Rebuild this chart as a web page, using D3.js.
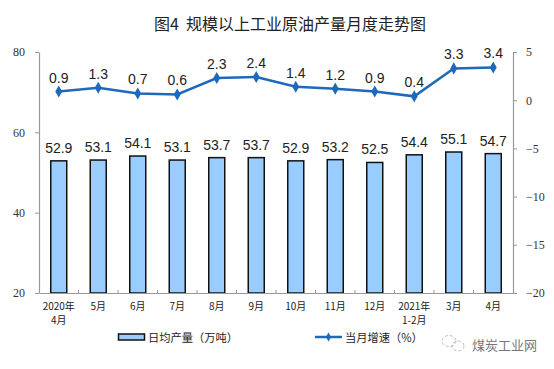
<!DOCTYPE html>
<html>
<head>
<meta charset="utf-8">
<script src="https://cdn.jsdelivr.net/npm/d3@7"></script>
<style>
body { margin: 0; background: #fff; }
svg { display: block; }
text { fill: #222; }
.cjk { font-family: "Noto Sans CJK SC", sans-serif; }
.label { font-family: "Liberation Sans", Arial, sans-serif; font-size: 14px; }
.tick-num { font-family: "Liberation Serif", serif; font-size: 12px; }
</style>
</head>
<body>
<svg id="chart" width="554" height="369"></svg>
<script>
var categories = ["2020年|4月", "5月", "6月", "7月", "8月", "9月", "10月", "11月", "12月", "2021年|1-2月", "3月", "4月"];
var output = [52.9, 53.1, 54.1, 53.1, 53.7, 53.7, 52.9, 53.2, 52.5, 54.4, 55.1, 54.7];
var growth = [0.9, 1.3, 0.7, 0.6, 2.3, 2.4, 1.4, 1.2, 0.9, 0.4, 3.3, 3.4];
var leftTicks = [20, 40, 60, 80];
var rightTicks = [-20, -15, -10, -5, 0, 5];

var svg = d3.select("#chart");
var plotLeft = 39, plotRight = 513, plotTop = 52, plotBottom = 293;

var x = d3.scaleBand().domain(categories).range([plotLeft, plotRight]);
var yL = d3.scaleLinear().domain([20, 80]).range([plotBottom, plotTop]);
var yR = d3.scaleLinear().domain([-20, 5]).range([plotBottom, plotTop]);

function cx(i) {
    return x(categories[i]) + x.bandwidth() / 2;
}

svg.append("text")
    .attr("class", "cjk")
    .attr("x", 290).attr("y", 30)
    .attr("text-anchor", "middle")
    .style("font-size", "16px")
    .style("white-space", "pre")
    .text("图4  规模以上工业原油产量月度走势图");

// bars
svg.append("g").selectAll("rect")
    .data(output)
    .join("rect")
    .attr("x", function (d, i) { return cx(i) - 8; })
    .attr("y", function (d) { return yL(d); })
    .attr("width", 16)
    .attr("height", function (d) { return plotBottom - yL(d); })
    .attr("fill", "#99ccff")
    .attr("stroke", "#111")
    .attr("stroke-width", 1.5);

svg.append("g").selectAll("text")
    .data(output)
    .join("text")
    .attr("class", "label")
    .attr("x", function (d, i) { return cx(i); })
    .attr("y", function (d) { return yL(d) - 8; })
    .attr("text-anchor", "middle")
    .text(function (d) { return d.toFixed(1); });

// axes
var axisColor = "#999";
var gL = svg.append("g")
    .attr("transform", "translate(" + plotLeft + ",0)")
    .call(d3.axisLeft(yL).tickValues(leftTicks).tickSize(4).tickPadding(10).tickSizeOuter(0));
var gR = svg.append("g")
    .attr("transform", "translate(" + plotRight + ",0)")
    .call(d3.axisRight(yR).tickValues(rightTicks).tickSize(4).tickPadding(9).tickSizeOuter(0));
var gX = svg.append("g")
    .attr("transform", "translate(0," + plotBottom + ")")
    .call(d3.axisBottom(x).tickSize(0).tickFormat(""));

[gL, gR, gX].forEach(function (g) {
    g.select(".domain").attr("stroke", axisColor).attr("stroke-width", 1.2);
    g.selectAll(".tick line").attr("stroke", axisColor);
    g.selectAll(".tick text").attr("class", "tick-num").style("fill", "#333");
});

// small ticks between categories
svg.append("g").selectAll("line")
    .data(categories.slice(1))
    .join("line")
    .attr("x1", function (d) { return x(d); })
    .attr("x2", function (d) { return x(d); })
    .attr("y1", plotBottom)
    .attr("y2", plotBottom - 3)
    .attr("stroke", axisColor);

// category labels, two lines where needed
var catLabels = svg.append("g").selectAll("text")
    .data(categories)
    .join("text")
    .attr("class", "cjk")
    .attr("text-anchor", "middle")
    .style("font-size", "10px")
    .attr("transform", function (d, i) { return "translate(" + cx(i) + ",0)"; });
catLabels.selectAll("tspan")
    .data(function (d) { return d.split("|"); })
    .join("tspan")
    .attr("x", 0)
    .attr("y", function (d, i) { return 310 + i * 14; })
    .text(function (d) { return d; });

// growth line
var line = d3.line()
    .x(function (d, i) { return cx(i); })
    .y(function (d) { return yR(d); });

svg.append("path")
    .datum(growth)
    .attr("d", line)
    .attr("fill", "none")
    .attr("stroke", "#1f69bd")
    .attr("stroke-width", 2.5);

var diamond = d3.symbol().type(d3.symbolDiamond).size(42);
svg.append("g").selectAll("path")
    .data(growth)
    .join("path")
    .attr("d", diamond)
    .attr("fill", "#1f69bd")
    .attr("transform", function (d, i) {
        return "translate(" + cx(i) + "," + yR(d) + ")";
    });

svg.append("g").selectAll("text")
    .data(growth)
    .join("text")
    .attr("class", "label")
    .attr("x", function (d, i) { return cx(i); })
    .attr("y", function (d) { return yR(d) - 9; })
    .attr("text-anchor", "middle")
    .text(function (d) { return d.toFixed(1); });

// legend
svg.append("rect")
    .attr("x", 118.5).attr("y", 334)
    .attr("width", 26).attr("height", 6)
    .attr("fill", "#99ccff")
    .attr("stroke", "#111")
    .attr("stroke-width", 1.5);
svg.append("text")
    .attr("class", "cjk")
    .attr("x", 148).attr("y", 342)
    .style("font-size", "11.25px")
    .text("日均产量（万吨）");

svg.append("line")
    .attr("x1", 315).attr("x2", 342)
    .attr("y1", 337).attr("y2", 337)
    .attr("stroke", "#1f69bd")
    .attr("stroke-width", 2.5);
svg.append("path")
    .attr("d", d3.symbol().type(d3.symbolDiamond).size(24))
    .attr("fill", "#1f69bd")
    .attr("transform", "translate(328.5,337)");
svg.append("text")
    .attr("class", "cjk")
    .attr("x", 345).attr("y", 342)
    .style("font-size", "11.25px")
    .text("当月增速（%）");

// watermark
var wm = svg.append("g").attr("fill", "none").attr("stroke", "#aaa").attr("stroke-width", 0.8);
wm.append("ellipse").attr("cx", 449).attr("cy", 341).attr("rx", 7).attr("ry", 5.5).attr("stroke-dasharray", "3 2");
wm.append("ellipse").attr("cx", 458).attr("cy", 346).attr("rx", 6).attr("ry", 5).attr("stroke-dasharray", "3 2");
svg.append("text")
    .attr("class", "cjk")
    .attr("x", 472).attr("y", 350)
    .style("font-size", "13px")
    .style("fill", "#777")
    .text("煤炭工业网");
</script>
</body>
</html>
